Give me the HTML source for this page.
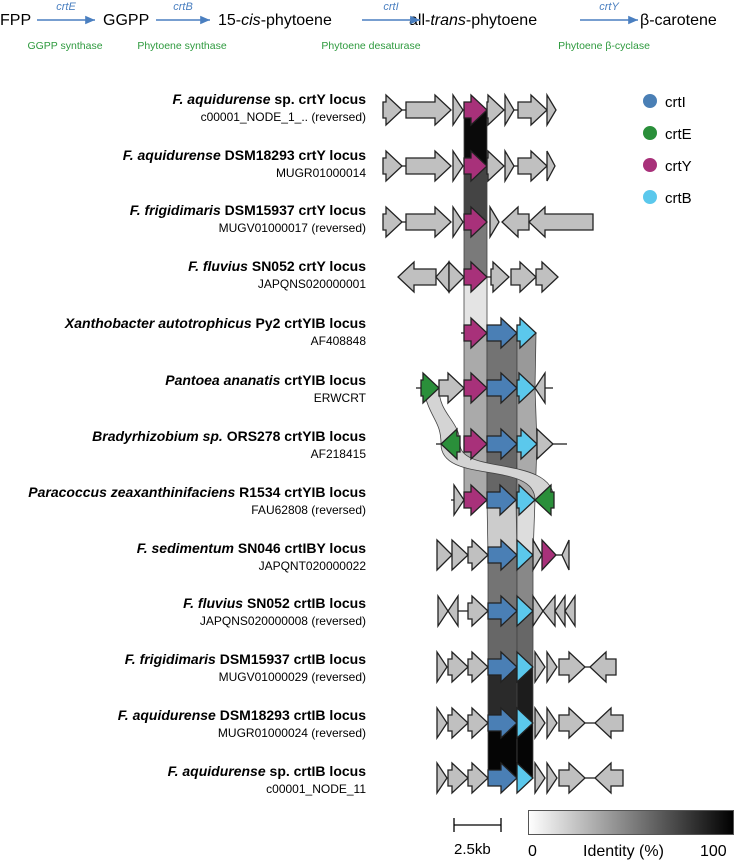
<!DOCTYPE html>
<html><head><meta charset="utf-8">
<style>
html,body{margin:0;padding:0;background:#fff;}
svg{display:block;font-family:"Liberation Sans",sans-serif;}
</style></head>
<body>
<svg id="s" width="735" height="862" viewBox="0 0 735 862" xmlns="http://www.w3.org/2000/svg">
<defs>
<linearGradient id="g" x1="0" x2="1" y1="0" y2="0"><stop offset="0" stop-color="#fff"/><stop offset="1" stop-color="#000"/></linearGradient>
<marker id="ah" markerWidth="8" markerHeight="8" refX="7" refY="4" orient="auto"><path d="M0,1 L7,4 L0,7 z" fill="#4a7fc0"/></marker>
</defs>
<g font-size="16" fill="#000">
<text x="0" y="25">FPP</text>
<text x="103" y="25">GGPP</text>
<text x="218" y="25">15-<tspan font-style="italic">cis</tspan>-phytoene</text>
<text x="409" y="25">all-<tspan font-style="italic">trans</tspan>-phytoene</text>
<text x="640" y="25">β-carotene</text>
</g>
<g stroke="#4a7fc0" stroke-width="1.4" marker-end="url(#ah)">
<line x1="37" y1="20" x2="95" y2="20"/><line x1="156" y1="20" x2="210" y2="20"/>
<line x1="362" y1="20" x2="420" y2="20"/><line x1="580" y1="20" x2="638" y2="20"/>
</g>
<g font-size="11" fill="#4a7fc0" font-style="italic" text-anchor="middle">
<text x="66" y="10">crtE</text><text x="183" y="10">crtB</text><text x="391" y="10">crtI</text><text x="609" y="10">crtY</text>
</g>
<g font-size="10.5" fill="#2e9a3e" text-anchor="middle">
<text x="65" y="49">GGPP synthase</text><text x="182" y="49">Phytoene synthase</text>
<text x="371" y="49">Phytoene desaturase</text><text x="604" y="49">Phytoene β-cyclase</text>
</g>
<g id="bands"></g>
<g id="genes"></g>
<g id="labels" font-size="14" text-anchor="end"></g>
<g font-size="15">
<circle cx="650" cy="101" r="7" fill="#4a7fb5"/><text x="665" y="107">crtI</text>
<circle cx="650" cy="133" r="7" fill="#2a8f3a"/><text x="665" y="139">crtE</text>
<circle cx="650" cy="165" r="7" fill="#a8317a"/><text x="665" y="171">crtY</text>
<circle cx="650" cy="197" r="7" fill="#5bc8ec"/><text x="665" y="203">crtB</text>
</g>
<g stroke="#000" stroke-width="1.3"><line x1="454" y1="825" x2="501" y2="825"/><line x1="454" y1="818" x2="454" y2="832"/><line x1="501" y1="818" x2="501" y2="832"/></g>
<text x="454" y="854" font-size="15">2.5kb</text>
<rect x="528.5" y="810.5" width="205" height="24" fill="url(#g)" stroke="#555"/>
<g font-size="16"><text x="528" y="856">0</text><text x="583" y="856">Identity (%)</text><text x="700" y="856">100</text></g>
</svg>
<script>
var NS="http://www.w3.org/2000/svg";
var Y=[110,166,222,277,333,388,444,500,555,611,667,723,778];
var C={g:"#c0c0c0",b:"#4a7fb5",e:"#2a8f3a",y:"#a8317a",c:"#5bc8ec"};
var G=document.getElementById("genes"),B=document.getElementById("bands"),L=document.getElementById("labels");
function el(p,t,a){var e=document.createElementNS(NS,t);for(var k in a)e.setAttribute(k,a[k]);p.appendChild(e);return e;}
function arrow(x1,x2,y,col,rev){var len=x2-x1,h=Math.min(16,len),bh=8,hh=15,d;
 if(!rev){var hx=x2-h;d="M"+x1+","+(y-bh)+"L"+hx+","+(y-bh)+"L"+hx+","+(y-hh)+"L"+x2+","+y+"L"+hx+","+(y+hh)+"L"+hx+","+(y+bh)+"L"+x1+","+(y+bh)+"Z";}
 else{var hx=x1+h;d="M"+x2+","+(y-bh)+"L"+hx+","+(y-bh)+"L"+hx+","+(y-hh)+"L"+x1+","+y+"L"+hx+","+(y+hh)+"L"+hx+","+(y+bh)+"L"+x2+","+(y+bh)+"Z";}
 el(G,"path",{d:d,fill:C[col],stroke:"#222","stroke-width":1.3,"stroke-linejoin":"miter"});}
function line(x1,x2,y){el(G,"line",{x1:x1,x2:x2,y1:y,y2:y,stroke:"#222","stroke-width":1.3});}
function band(a1,a2,r1,b1,b2,r2,f){el(B,"path",{d:"M"+a1+","+Y[r1]+"L"+a2+","+Y[r1]+"L"+b2+","+Y[r2]+"L"+b1+","+Y[r2]+"Z",fill:f,stroke:"#444","stroke-width":0.8});}
// bands
band(464,487,0,464,487,1,"#0a0a0a");band(464,487,1,464,487,2,"#444");band(464,487,2,464,487,3,"#7a7a7a");band(464,487,3,464,487,4,"#e4e4e4");
band(464,487,4,464,487,5,"#aaa");band(487,517,4,487,517,5,"#737373");band(517,536,4,517,535,5,"#999");
band(464,487,5,464,487,6,"#aaa");band(487,517,5,487,517,6,"#777");band(517,535,5,517,537,6,"#aaa");
band(464,487,6,464,487,7,"#aaa");band(487,517,6,487,516,7,"#666");band(517,537,6,517,535,7,"#aaa");
band(487,516,7,488,517,8,"#ccc");band(517,535,7,517,533,8,"#ddd");
band(488,517,8,488,517,9,"#747474");band(517,533,8,517,533,9,"#888");
band(488,517,9,488,517,10,"#676767");band(517,533,9,517,533,10,"#676767");
band(488,517,10,488,517,11,"#2a2a2a");band(517,533,10,517,533,11,"#1c1c1c");
band(488,517,11,488,517,12,"#050505");band(517,533,11,517,533,12,"#050505");
el(B,"path",{d:"M423,388 C430,420 441,420 441,444 L460,444 C460,420 439,415 439,388 Z",fill:"#d4d4d4",stroke:"#444","stroke-width":0.8});
el(B,"path",{d:"M441,444 C441,485 535,460 535,500 L554,500 C554,455 460,475 460,444 Z",fill:"#d4d4d4",stroke:"#444","stroke-width":0.8});
// genes
var y;
[0,1].forEach(function(r){y=Y[r];arrow(383,402,y,"g");line(402,406,y);arrow(406,451,y,"g");arrow(453,463,y,"g");arrow(464,487,y,"y");arrow(487,504,y,"g");arrow(505,514,y,"g");line(514,518,y);arrow(518,547,y,"g");arrow(547,r?555:556,y,"g");});
y=Y[2];arrow(383,402,y,"g");line(402,406,y);arrow(406,451,y,"g");arrow(453,463,y,"g");arrow(464,487,y,"y");arrow(490,499,y,"g");arrow(502,529,y,"g",1);arrow(529,593,y,"g",1);
y=Y[3];arrow(398,436,y,"g",1);arrow(436,449,y,"g",1);arrow(449,464,y,"g");arrow(464,487,y,"y");line(487,491,y);arrow(491,509,y,"g");arrow(511,536,y,"g");arrow(536,558,y,"g");
y=Y[4];line(461,464,y);arrow(464,487,y,"y");arrow(487,517,y,"b");arrow(517,536,y,"c");
y=Y[5];line(416,421,y);arrow(421,439,y,"e");arrow(439,464,y,"g");arrow(464,487,y,"y");arrow(487,517,y,"b");arrow(517,535,y,"c");arrow(535,545,y,"g",1);line(545,553,y);
y=Y[6];line(436,441,y);arrow(441,460,y,"e",1);arrow(464,487,y,"y");arrow(487,517,y,"b");arrow(517,537,y,"c");arrow(537,553,y,"g");line(553,567,y);
y=Y[7];line(451,454,y);arrow(454,464,y,"g");arrow(464,487,y,"y");arrow(487,516,y,"b");arrow(517,535,y,"c");arrow(535,554,y,"e",1);
y=Y[8];arrow(437,452,y,"g");arrow(452,468,y,"g");arrow(468,488,y,"g");arrow(488,517,y,"b");arrow(517,533,y,"c");arrow(533,542,y,"g");arrow(542,556,y,"y");line(556,562,y);arrow(562,569,y,"g",1);
y=Y[9];arrow(438,448,y,"g");arrow(448,458,y,"g",1);line(458,468,y);arrow(468,488,y,"g");arrow(488,517,y,"b");arrow(517,533,y,"c");arrow(533,543,y,"g");arrow(543,555,y,"g",1);arrow(555,565,y,"g",1);arrow(565,575,y,"g",1);
[10,11,12].forEach(function(r){y=Y[r];arrow(437,447,y,"g");arrow(448,468,y,"g");arrow(468,488,y,"g");arrow(488,517,y,"b");arrow(517,533,y,"c");arrow(535,545,y,"g");arrow(547,557,y,"g");arrow(559,585,y,"g");if(r==10){arrow(590,616,y,"g",1);line(585,590,y);}else{line(585,595,y);arrow(595,623,y,"g",1);}});
// labels
var T=[["F. aquidurense","sp. crtY locus","c00001_NODE_1_.. (reversed)"],["F. aquidurense","DSM18293 crtY locus","MUGR01000014"],["F. frigidimaris","DSM15937 crtY locus","MUGV01000017 (reversed)"],["F. fluvius","SN052 crtY locus","JAPQNS020000001"],["Xanthobacter autotrophicus","Py2 crtYIB locus","AF408848"],["Pantoea ananatis","crtYIB locus","ERWCRT"],["Bradyrhizobium sp.","ORS278 crtYIB locus","AF218415"],["Paracoccus zeaxanthinifaciens","R1534 crtYIB locus","FAU62808 (reversed)"],["F. sedimentum","SN046 crtIBY locus","JAPQNT020000022"],["F. fluvius","SN052 crtIB locus","JAPQNS020000008 (reversed)"],["F. frigidimaris","DSM15937 crtIB locus","MUGV01000029 (reversed)"],["F. aquidurense","DSM18293 crtIB locus","MUGR01000024 (reversed)"],["F. aquidurense","sp. crtIB locus","c00001_NODE_11"]];
var LY=[106,162,217,273,330,387,443,499,555,610,666,722,778];
T.forEach(function(t,i){var a=el(L,"text",{x:366,y:LY[i]-2,"font-weight":"bold"});var s=el(a,"tspan",{"font-style":"italic"});s.textContent=t[0];var s2=el(a,"tspan",{});s2.textContent=" "+t[1];
var b=el(L,"text",{x:366,y:LY[i]+15,"font-size":"12","font-weight":"normal"});b.textContent=t[2];});
</script>
</body></html>
